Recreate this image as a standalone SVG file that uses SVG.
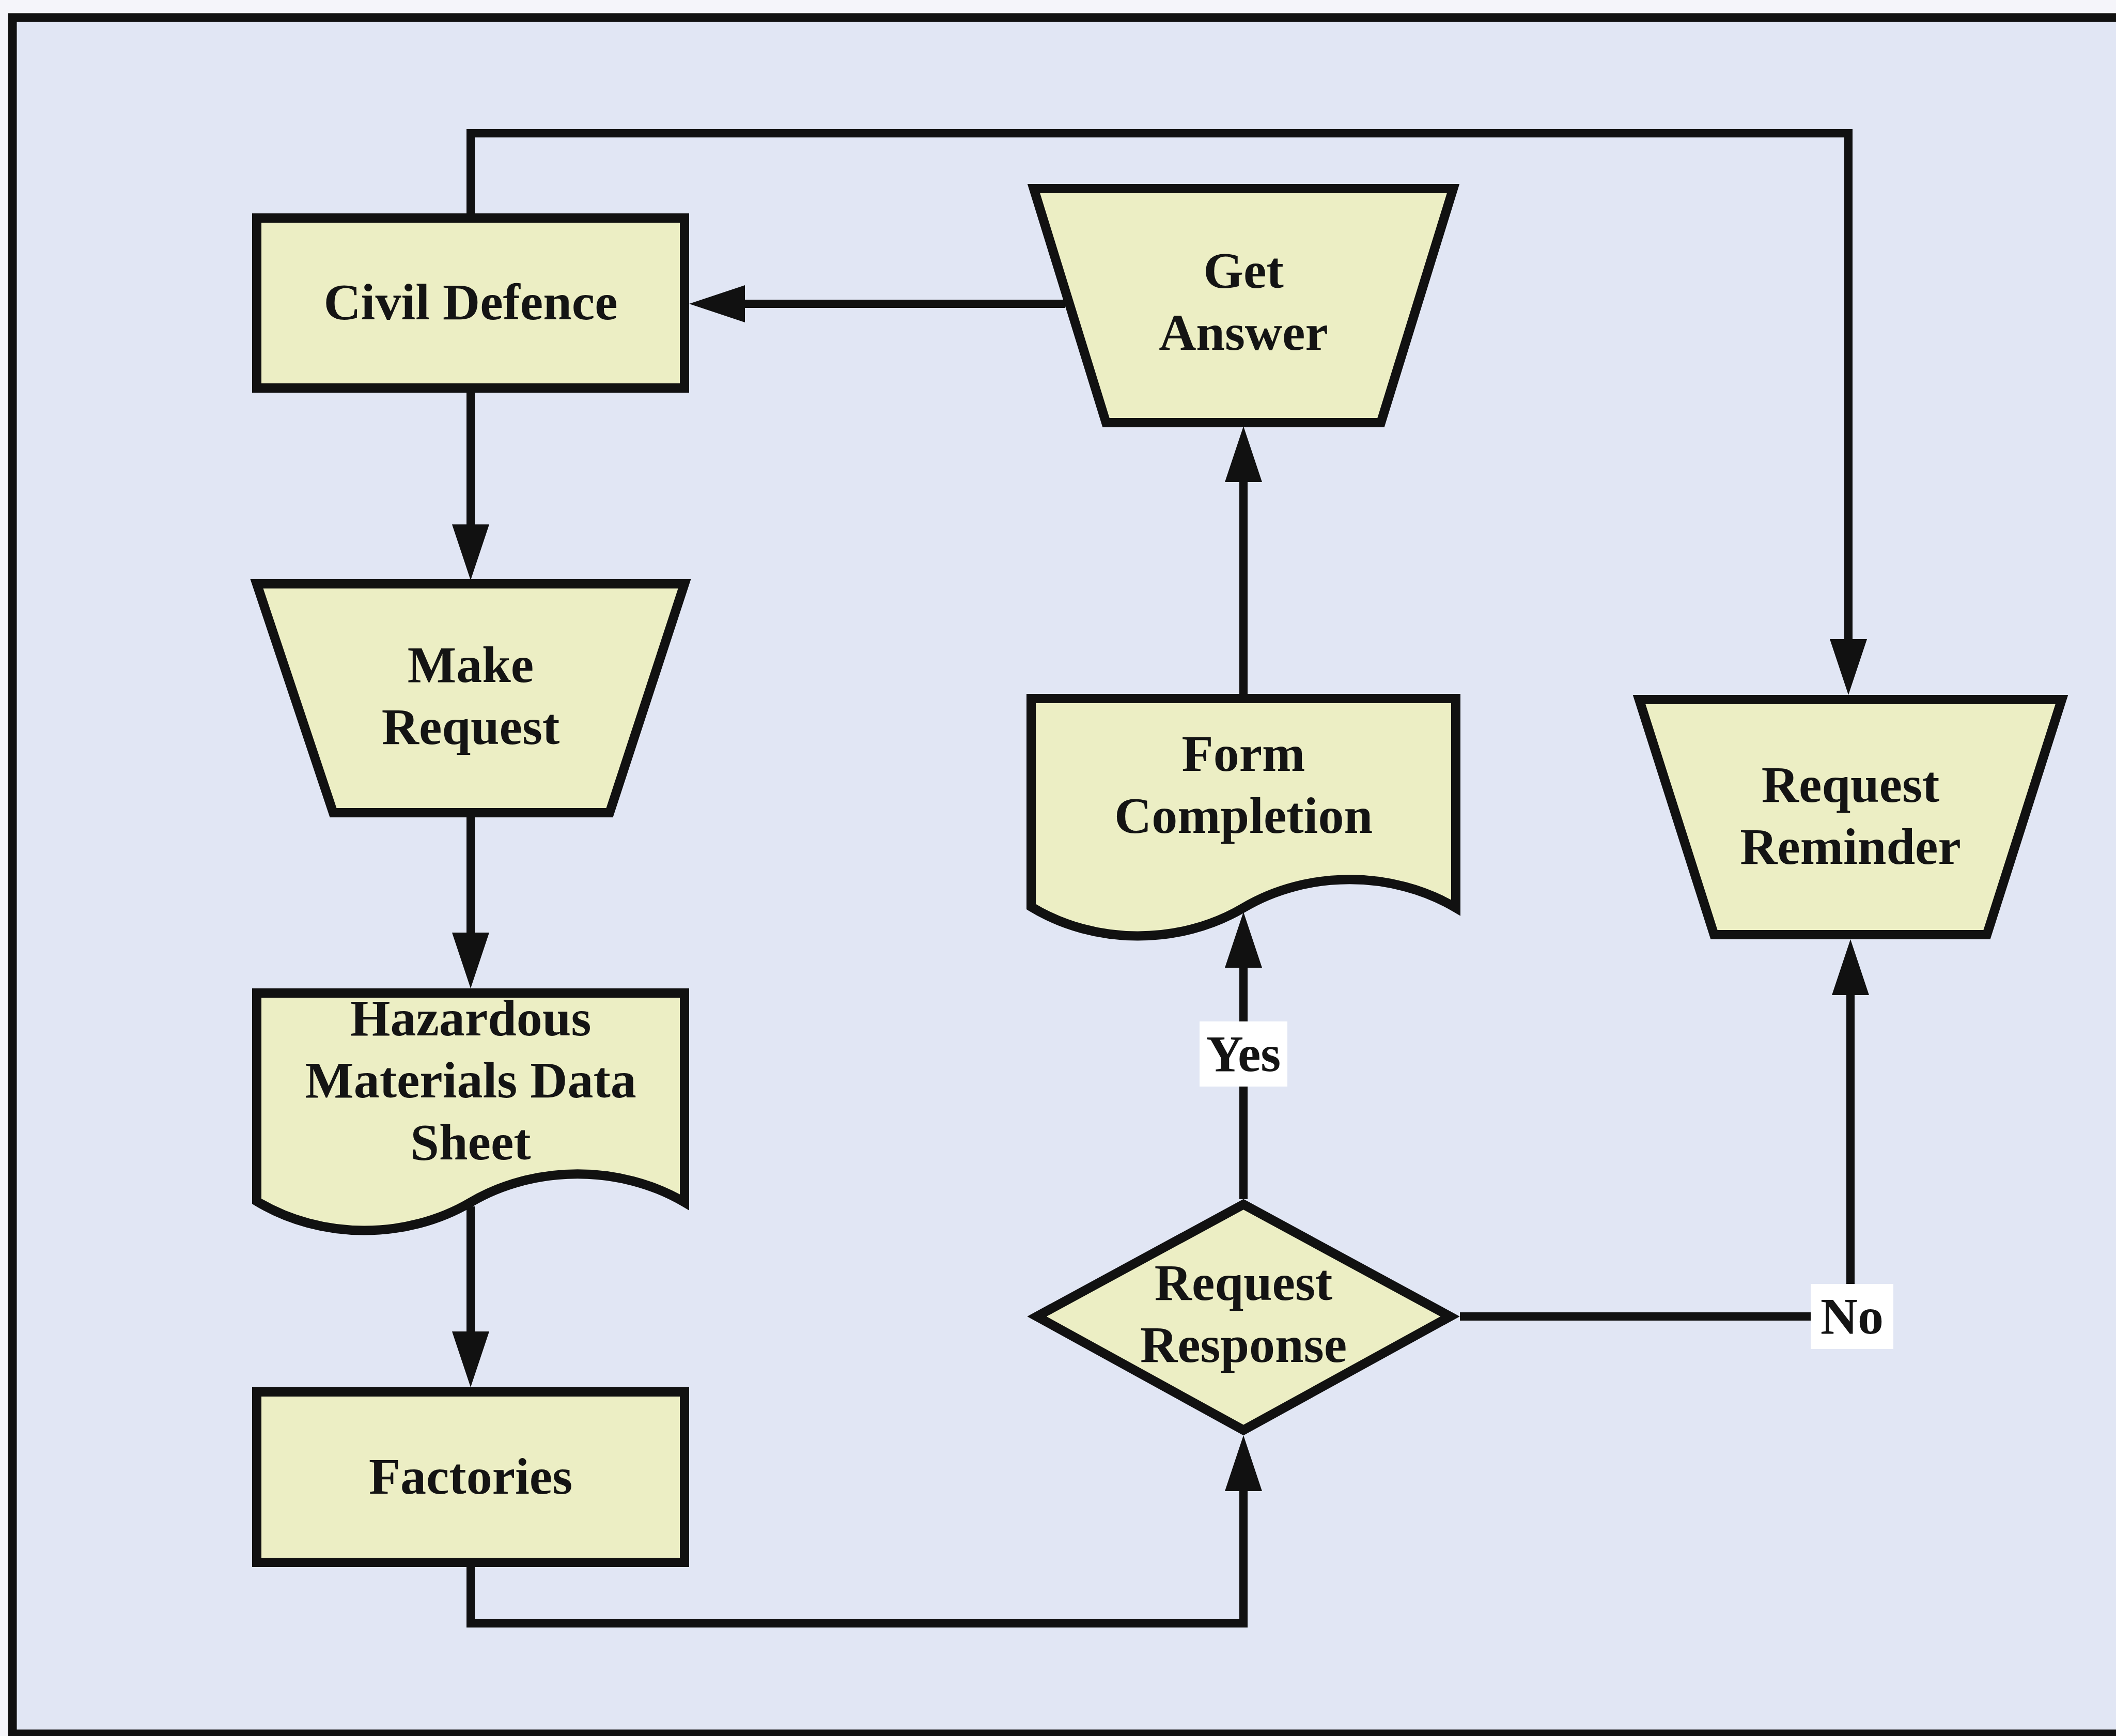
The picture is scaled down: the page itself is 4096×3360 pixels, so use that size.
<svg xmlns="http://www.w3.org/2000/svg" width="4096" height="3360" viewBox="0 0 4096 3360">
  <style>
    .node { fill: #eceec4; stroke: #111111; stroke-width: 18; stroke-linejoin: miter; }
    .label { font-family: "Liberation Serif", "Times New Roman", serif; font-weight: bold; font-size: 100px; fill: #141414; text-anchor: middle; }
    .edge { fill: none; stroke: #111111; stroke-width: 16; stroke-linejoin: miter; marker-end: url(#arrow); }
    .tag { fill: #ffffff; stroke: none; }
  </style>
  <defs>
    <!-- long narrow filled arrowhead; reference point sits 60px behind the tip -->
    <marker id="arrow" viewBox="0 0 108 72" refX="48" refY="36" markerWidth="108" markerHeight="72" markerUnits="userSpaceOnUse" orient="auto">
      <path d="M0,0 L108,36 L0,72 Z" fill="#111111"/>
    </marker>
  </defs>

  <!-- page and framed panel -->
  <rect x="0" y="0" width="4096" height="3360" fill="#f5f5fa"/>
  <rect id="frame" x="24" y="34" width="4200" height="3322" fill="#e1e6f4" stroke="#111111" stroke-width="17"/>

  <!-- connectors -->
  <g id="connectors">
    <path class="edge" d="M911,760 V1063"/>
    <path class="edge" d="M911,1582 V1853"/>
    <path class="edge" d="M911,2335 V2625"/>
    <path class="edge" d="M911,3033 V3142 H2407 V2838"/>
    <path class="edge" d="M2407,2321 V1825"/>
    <path class="edge" d="M2407,1343 V885"/>
    <path class="edge" d="M2062,588 H1394"/>
    <path class="edge" d="M911,413 V258 H3578 V1285"/>
    <path class="edge" d="M2826,2548 H3582 V1878"/>
    <g id="label-yes">
      <rect class="tag" x="2322" y="1977" width="170" height="126"/>
      <text class="label" x="2407" y="2073">Yes</text>
    </g>
    <g id="label-no">
      <rect class="tag" x="3505" y="2485" width="160" height="126"/>
      <text class="label" x="3585" y="2581">No</text>
    </g>
  </g>

  <!-- left column -->
  <g id="civil-defence">
    <rect class="node" x="497" y="422" width="828" height="329"/>
    <text class="label" x="911" y="618">Civil Defence</text>
  </g>

  <g id="make-request">
    <path class="node" d="M497,1130 H1325 L1180,1573 H645 Z"/>
    <text class="label" x="911" y="1320">Make</text>
    <text class="label" x="911" y="1440">Request</text>
  </g>

  <g id="hazardous-materials-data-sheet">
    <path class="node" d="M497,1922 H1325 V2327 C1201,2254 1035,2254 911,2327 C787,2400 621,2400 497,2325 Z"/>
    <text class="label" x="911" y="2004">Hazardous</text>
    <text class="label" x="911" y="2124">Materials Data</text>
    <text class="label" x="911" y="2244">Sheet</text>
  </g>

  <g id="factories">
    <rect class="node" x="497" y="2694" width="828" height="330"/>
    <text class="label" x="911" y="2891">Factories</text>
  </g>

  <!-- middle column -->
  <g id="get-answer">
    <path class="node" d="M2001,365 H2813 L2673,818 H2141 Z"/>
    <text class="label" x="2407" y="557">Get</text>
    <text class="label" x="2407" y="677">Answer</text>
  </g>

  <g id="form-completion">
    <path class="node" d="M1996,1352 H2818 V1757 C2695,1684 2530,1684 2407,1757 C2284,1830 2119,1830 1996,1755 Z"/>
    <text class="label" x="2407" y="1492">Form</text>
    <text class="label" x="2407" y="1612">Completion</text>
  </g>

  <g id="request-response">
    <path class="node" d="M2407,2331 L2807,2548 L2407,2768 L2007,2548 Z"/>
    <text class="label" x="2407" y="2516">Request</text>
    <text class="label" x="2407" y="2636">Response</text>
  </g>

  <!-- right column -->
  <g id="request-reminder">
    <path class="node" d="M3173,1354 H3991 L3846,1809 H3318 Z"/>
    <text class="label" x="3582" y="1552">Request</text>
    <text class="label" x="3582" y="1672">Reminder</text>
  </g>
</svg>
